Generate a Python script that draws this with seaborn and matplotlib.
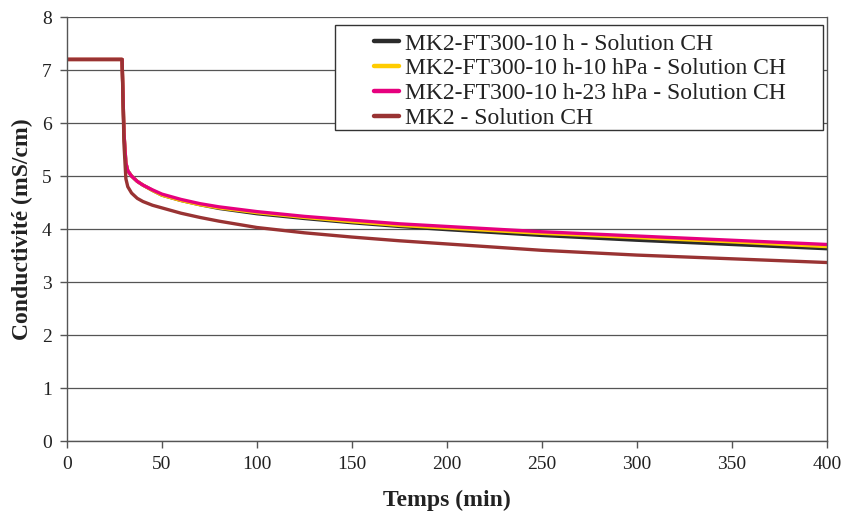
import matplotlib
matplotlib.use("Agg")
import matplotlib.pyplot as plt
import pandas as pd
import seaborn as sns
from matplotlib.patches import Rectangle

# Données
temps = [0, 29, 30, 31, 32, 34, 37, 40, 45, 50, 60, 70, 80, 100, 125, 150,
         175, 200, 250, 300, 350, 400]
ft300_10h = [7.2, 7.2, 5.8, 5.25, 5.1, 5.0, 4.9, 4.83, 4.73, 4.64, 4.54, 4.46,
             4.39, 4.29, 4.20, 4.12, 4.05, 3.99, 3.88, 3.79, 3.71, 3.63]
ft300_10h_10hpa = [7.2, 7.2, 5.8, 5.25, 5.1, 5.0, 4.9, 4.83, 4.73, 4.64, 4.54,
                   4.46, 4.40, 4.31, 4.22, 4.14, 4.07, 4.02, 3.92, 3.84, 3.76, 3.67]
ft300_10h_23hpa = [7.2, 7.2, 5.8, 5.25, 5.1, 5.0, 4.9, 4.83, 4.74, 4.66, 4.56,
                   4.48, 4.42, 4.33, 4.24, 4.17, 4.10, 4.05, 3.95, 3.87, 3.79, 3.71]
mk2 = [7.2, 7.2, 5.6, 4.95, 4.8, 4.68, 4.58, 4.52, 4.45, 4.40, 4.30, 4.22,
       4.15, 4.03, 3.93, 3.85, 3.78, 3.72, 3.60, 3.51, 3.44, 3.37]

noms = ["MK2-FT300-10 h - Solution CH",
        "MK2-FT300-10 h-10 hPa - Solution CH",
        "MK2-FT300-10 h-23 hPa - Solution CH",
        "MK2 - Solution CH"]
couleurs = ["#2b2b2b", "#ffcc00", "#e6007e", "#993333"]
series = [ft300_10h, ft300_10h_10hpa, ft300_10h_23hpa, mk2]

df = pd.concat([pd.DataFrame({"temps": temps, "cond": s, "serie": n})
                for n, s in zip(noms, series)], ignore_index=True)

sns.set_style("white")
plt.rcParams["font.family"] = ["Liberation Serif", "DejaVu Serif"]

fig = plt.figure(figsize=(8.48, 5.16), dpi=100)
ax = fig.add_axes([0.079, 0.145, 0.896, 0.822])

sns.lineplot(data=df, x="temps", y="cond", hue="serie", hue_order=noms,
             palette=couleurs, linewidth=2.4, ax=ax, sort=False)

ax.set_xlim(0, 400)
ax.set_ylim(0, 8)
ax.set_xticks(range(0, 401, 50))
ax.set_yticks(range(0, 9))
ax.yaxis.grid(True, color="#555555", linewidth=0.9)
ax.xaxis.grid(False)
for sp in ax.spines.values():
    sp.set_color("#555555")
    sp.set_linewidth(1.0)
ax.spines["top"].set_visible(False)
ax.tick_params(axis="both", direction="out", length=5, width=1, color="#555555",
               labelsize=14, labelcolor="#222222", bottom=True, left=True)
ax.tick_params(axis="x", pad=6)
ax.tick_params(axis="y", pad=6)
ax.set_xlabel("Temps (min)", fontsize=17, fontweight="bold", color="#222222",
              labelpad=12)
ax.set_ylabel("Conductivité (mS/cm)", fontsize=17, fontweight="bold",
              color="#222222", labelpad=6)

# cadre de la légende (style tableur, avec marge à gauche)
cadre = Rectangle((335 / 848, 1 - 130 / 516), 488 / 848, 105 / 516,
                  transform=fig.transFigure, facecolor="white",
                  edgecolor="#333333", linewidth=1.0, zorder=5, clip_on=False)
ax.add_patch(cadre)
leg = ax.legend(loc="upper left", bbox_to_anchor=(374 / 848, 1 - 33 / 516),
                bbox_transform=fig.transFigure, fontsize=17, frameon=False,
                handlelength=1.05, handletextpad=0.25, borderpad=0,
                labelspacing=0.14, borderaxespad=0)
leg.set_zorder(6)
for h in leg.get_lines():
    h.set_linewidth(3.2)
for t in leg.get_texts():
    t.set_color("#222222")

fig.savefig("out.png", dpi=100)
